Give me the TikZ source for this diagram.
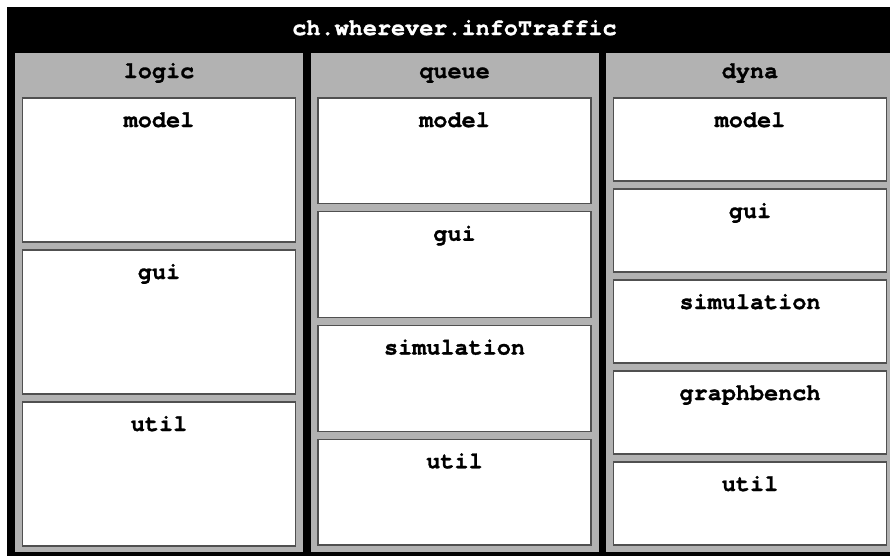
\documentclass[tikz,border=0pt]{standalone}
\usepackage{fontspec}
\setmonofont{TeX Gyre Cursor}[Ligatures=NoCommon,BoldFeatures={FakeBold=1.2}]
\usepackage{tikz}
\usetikzlibrary{positioning}
\definecolor{pkggray}{RGB}{178,178,178}
\definecolor{pkgline}{RGB}{80,80,80}
\tikzset{
  pkgfont/.style={font=\ttfamily\bfseries\fontsize{23.5}{26}\selectfont},
  frame/.style={pkgfont,fill=black,text=white,minimum width=895pt,minimum height=556pt,
                inner sep=0pt,outer sep=0pt,text height=28pt,text depth=528pt},
  column/.style={pkgfont,fill=pkggray,minimum width=288pt,minimum height=499pt,
                 inner sep=0pt,outer sep=0pt,text height=25pt,text depth=474pt},
  pkg/.style={pkgfont,draw=pkgline,fill=white,line width=1.3pt,minimum width=273pt,
              inner sep=0pt,outer sep=0pt,text height=29pt,text depth=#1},
}

\begin{document}
\begin{tikzpicture}[x=1pt,y=-1pt]
  \useasboundingbox (0,0) rectangle (890,555);
  \clip (0,0) rectangle (890,555);
  %% Outer package
  \node[frame,anchor=north] (infotraffic) at (454.5,7) {ch.wherever.infoTraffic};
  %% Sub packages
  \node[column,anchor=north] (logic) at (159,53)   {logic};
  \node[column,anchor=north] (queue) at (454.5,53) {queue};
  \node[column,anchor=north] (dyna)  at (750,53)   {dyna};
  %% logic
  \node[pkg=115pt,below=45pt of logic.north] (lmodel) {model};
  \node[pkg=115pt,below=8pt of lmodel]       (lgui)   {gui};
  \node[pkg=115pt,below=8pt of lgui]         (lutil)  {util};
  %% queue
  \node[pkg=76.75pt,below=45pt of queue.north] (qmodel) {model};
  \node[pkg=76.75pt,below=8pt of qmodel]       (qgui)   {gui};
  \node[pkg=76.75pt,below=8pt of qgui]         (qsim)   {simulation};
  \node[pkg=76.75pt,below=8pt of qsim]         (qutil)  {util};
  %% dyna
  \node[pkg=54pt,below=45pt of dyna.north] (dmodel) {model};
  \node[pkg=54pt,below=8pt of dmodel]      (dgui)   {gui};
  \node[pkg=54pt,below=8pt of dgui]        (dsim)   {simulation};
  \node[pkg=54pt,below=8pt of dsim]        (dbench) {graphbench};
  \node[pkg=54pt,below=8pt of dbench]      (dutil)  {util};
\end{tikzpicture}
\end{document}
